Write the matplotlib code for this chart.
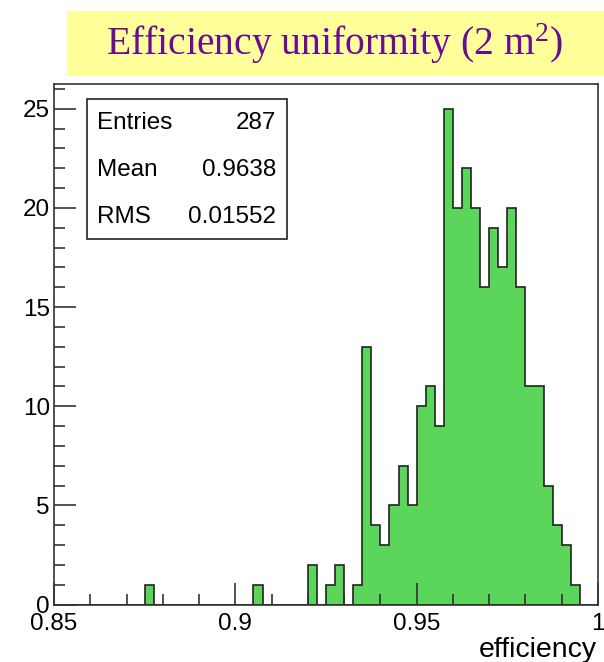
import matplotlib.pyplot as plt
import matplotlib.patches as patches
import numpy as np

# histogram: 60 bins of 0.0025 from 0.85 to 1.0
x_low, x_high, n_bins = 0.85, 1.0, 60
counts = [0, 0, 0, 0, 0, 0, 0, 0, 0, 0,
          1, 0, 0, 0, 0, 0, 0, 0, 0, 0,
          0, 0, 1, 0, 0, 0, 0, 0, 2, 0,
          1, 2, 0, 1, 13, 4, 3, 5, 7, 5,
          10, 11, 9, 25, 20, 22, 20, 16, 19, 17,
          20, 16, 11, 11, 6, 4, 3, 1, 0, 0]
stats_names = ['Entries', 'Mean', 'RMS']
stats_values = ['287', '0.9638', '0.01552']
title = r'Efficiency uniformity (2 m$^{2}$)'
xlabel = 'efficiency'

plt.rcParams['font.family'] = ['Liberation Sans', 'DejaVu Sans']
plt.rcParams['mathtext.fontset'] = 'custom'
plt.rcParams['mathtext.rm'] = 'Liberation Serif'
plt.rcParams['mathtext.it'] = 'Liberation Serif'
plt.rcParams['mathtext.default'] = 'rm'

fig = plt.figure(figsize=(6.04, 6.62), dpi=100)

# yellow title banner
fig.patches.append(patches.Rectangle((67/604, 1-76/662), 537/604, 65/662,
                                     transform=fig.transFigure, facecolor='#ffff99',
                                     edgecolor='none', zorder=0))
fig.text(334/604, 1-44/662, title, ha='center', va='center', fontsize=28.5,
         family=['Liberation Serif', 'DejaVu Serif'], color='#6a0a96')

ax = fig.add_axes([54/604, 1-604.5/662, 544/604, 520.5/662])
edges = np.linspace(x_low, x_high, n_bins + 1)
centers = (edges[:-1] + edges[1:]) / 2
ax.hist(centers, bins=edges, weights=counts, histtype='stepfilled',
        facecolor='#5cd65a', edgecolor='#222222', linewidth=1.2)

ax.set_xlim(x_low, x_high)
ax.set_ylim(0, 26.25)
ax.set_xticks([0.85, 0.9, 0.95, 1.0])
ax.set_xticklabels(['0.85', '0.9', '0.95', '1'])
ax.set_xticks(np.arange(0.86, 1.0, 0.01), minor=True)
ax.set_yticks(range(0, 26, 5))
ax.set_yticks(range(0, 27), minor=True)
ax.tick_params(which='both', direction='in', labelsize=17.5, color='#333333')
ax.tick_params(which='major', length=16, width=1.2)
ax.tick_params(which='minor', length=8, width=1.2)
ax.tick_params(axis='x', pad=6)
ax.tick_params(axis='y', pad=3)
for s in ax.spines.values():
    s.set_linewidth(1.2)
    s.set_color('#333333')

fig.text(597/604, 1-657/662, xlabel, ha='right', va='baseline', fontsize=20.5)

# stats box
box = patches.Rectangle((87/604, 1-239/662), 200/604, 140/662, transform=fig.transFigure,
                        facecolor='white', edgecolor='#222222', linewidth=1.2, zorder=5)
fig.patches.append(box)
for i, (n, v) in enumerate(zip(stats_names, stats_values)):
    y = 1 - (123 + 47*i)/662
    fig.text(97/604, y, n, ha='left', va='center', fontsize=17.5, zorder=6)
    fig.text(276/604, y, v, ha='right', va='center', fontsize=17.5, zorder=6)

plt.savefig('out.png')
